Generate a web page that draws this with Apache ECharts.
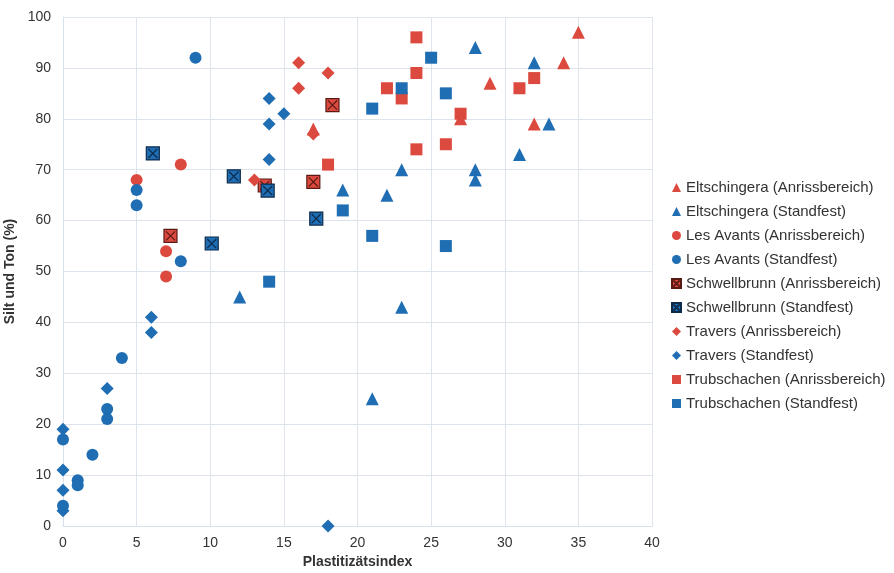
<!DOCTYPE html>
<html><head><meta charset="utf-8">
<script src="https://cdn.jsdelivr.net/npm/echarts@6/dist/echarts.min.js"></script>
<style>html,body{margin:0;padding:0;background:#fff}#c{width:894px;height:573px}</style>
</head><body><div id="c"></div>
<script>
const seriesNames = [
  "Eltschingera (Anrissbereich)", "Eltschingera (Standfest)",
  "Les Avants (Anrissbereich)", "Les Avants (Standfest)",
  "Schwellbrunn (Anrissbereich)", "Schwellbrunn (Standfest)",
  "Travers (Anrissbereich)", "Travers (Standfest)",
  "Trubschachen (Anrissbereich)", "Trubschachen (Standfest)"
];
const eltAnriss = [[35,97],[34,91],[29,87],[32,79],[27,80],[17,78]];
const eltStand = [[28,94],[32,91],[33,79],[31,73],[28,70],[28,68],[23,70],[23,43],[19,66],[22,65],[12,45],[21,25]];
const lesAnriss = [[5,68],[8,71],[7,54],[7,49]];
const lesStand = [[9,92],[5,66],[5,63],[8,52],[4,33],[3,23],[3,21],[0,17],[2,14],[1,9],[1,8],[0,4]];
const schAnriss = [[7.3,57],[18.3,82.7],[17,67.6],[13.7,66.9]];
const schStand = [[6.1,73.2],[11.6,68.7],[13.9,65.9],[10.1,55.5],[17.2,60.4]];
const travAnriss = [[16,91],[18,89],[16,86],[17,77],[13,68]];
const travStand = [[14,84],[15,81],[14,79],[14,72],[6,41],[6,38],[3,27],[0,19],[0,11],[0,7],[0,3],[18,0]];
const trubAnriss = [[24,96],[24,89],[23,84],[27,81],[24,74],[26,75],[31,86],[32,88],[22,86],[18,71]];
const trubStand = [[25,92],[26,85],[23,86],[21,82],[19,62],[21,57],[14,48],[26,55]];
const xTicks = [0,5,10,15,20,25,30,35,40];
const yTicks = [0,10,20,30,40,50,60,70,80,90,100];

const RED = '#dc4a3f', BLUE = '#1f6db3';
const crossSq = 'path://M0,0 L10,0 L10,10 L0,10 Z M1.5,1.5 L8.5,8.5 M8.5,1.5 L1.5,8.5';
const dataSets = [eltAnriss, eltStand, lesAnriss, lesStand, schAnriss, schStand, travAnriss, travStand, trubAnriss, trubStand];
const symbols = ['triangle','triangle','circle','circle',crossSq,crossSq,'diamond','diamond','rect','rect'];
const sizes = [13,13,12,12,13,13,13,13,12,12];

const series = dataSets.map((d,i)=>{
  const col = i%2===0 ? RED : BLUE;
  const isX = i===4 || i===5;
  return {
    name: seriesNames[i], type:'scatter', data:d,
    symbol: symbols[i], symbolSize: sizes[i],
    itemStyle: isX ? {color: col, borderColor: i===4 ? '#5a1a14' : '#0d2a4a', borderWidth: 1.2, opacity:1} : {color: col, opacity:1}
  };
});

const chart = echarts.init(document.getElementById('c'), null, {renderer:'canvas'});
chart.setOption({
  animation:false,
  backgroundColor:'#fff',
  grid:{left:63, right:242, top:17, bottom:47, containLabel:false, outerBoundsMode:'none'},
  legend:{
    orient:'vertical', left:666, top:175, itemGap:9, itemWidth:9, itemHeight:9,
    textStyle:{fontFamily:'Liberation Sans, Arial', fontSize:15, color:'#333'},
    data: seriesNames.map((n,i)=>({name:n, icon: symbols[i]}))
  },
  xAxis:{
    type:'value', min:0, max:40, interval:5,
    name:'Plastitizätsindex', nameLocation:'middle', nameGap:27,
    nameTextStyle:{fontFamily:'Liberation Sans, Arial', fontWeight:'bold', fontSize:14, color:'#333'},
    axisLine:{show:true, lineStyle:{color:'#d9e1ea'}}, axisTick:{show:false},
    axisLabel:{fontFamily:'Liberation Sans, Arial', fontSize:14, color:'#333', margin:10},
    splitLine:{show:true, lineStyle:{color:'#dde4ec'}}
  },
  yAxis:{
    type:'value', min:0, max:100, interval:10,
    name:'Silt und Ton (%)', nameLocation:'middle', nameGap:32, nameRotate:90,
    nameTextStyle:{fontFamily:'Liberation Sans, Arial', fontWeight:'bold', fontSize:14, color:'#333'},
    axisLine:{show:true, lineStyle:{color:'#d9e1ea'}}, axisTick:{show:false},
    axisLabel:{fontFamily:'Liberation Sans, Arial', fontSize:14, color:'#333', margin:12},
    splitLine:{show:true, lineStyle:{color:'#dde4ec'}}
  },
  series: series
});
</script></body></html>
